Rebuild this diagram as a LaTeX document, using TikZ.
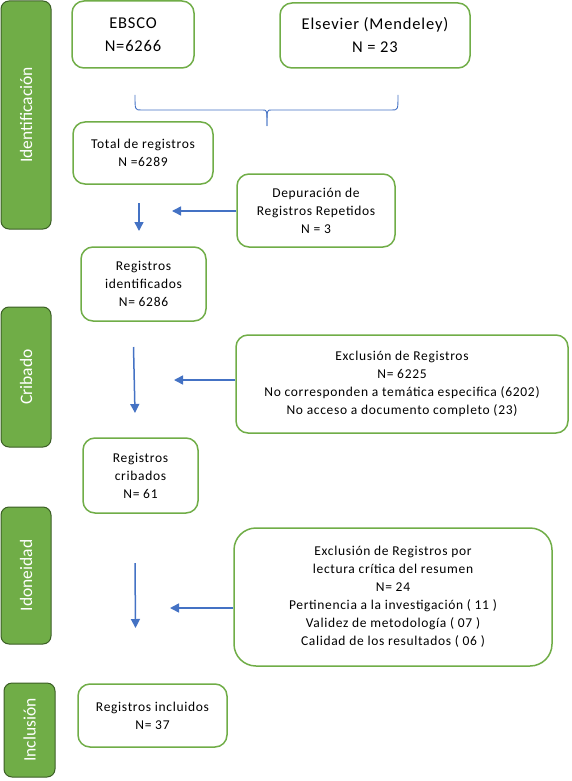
\documentclass[tikz,border=0pt]{standalone}
\usepackage{fontspec}
\setmainfont{Carlito}
\usetikzlibrary{arrows.meta}
\definecolor{gbar}{HTML}{70AD47}
\definecolor{gbard}{HTML}{3B5E25}
\definecolor{gbox}{HTML}{70AD47}
\definecolor{ablue}{HTML}{4472C4}
\newfontfamily\spacedfont[LetterSpace=5]{Carlito}
\tikzset{
  phase/.style={draw=gbard, fill=gbar, line width=1pt, rounded corners=8pt, rotate=90,
    text=white, font=\fontsize{17.5}{18}\selectfont, inner sep=0pt},
  box/.style={draw=gbox, fill=white, line width=1.5pt, rounded corners=12pt, align=center,
    font=\spacedfont\fontsize{13.5}{18}\selectfont, inner sep=0pt},
  bigbox/.style={box, font=\spacedfont\fontsize{16.5}{23}\selectfont},
  flow/.style={draw=ablue, line width=1.5pt, -{Triangle[length=9pt,width=9pt]}},
  bracel/.style={draw=ablue, line width=0.9pt}
}
\begin{document}
\begin{tikzpicture}[x=1pt,y=-1pt]
\useasboundingbox (0,0) rectangle (571,781);
% phase bars
\node[phase, minimum width=228pt, minimum height=50pt] (p1) at (26,115) {Identificación};
\node[phase, minimum width=140pt, minimum height=50pt] (p2) at (26,377) {Cribado};
\node[phase, minimum width=137pt, minimum height=50pt] (p3) at (26,575.5) {Idoneidad};
\node[phase, minimum width=94pt, minimum height=51pt] (p4) at (29.5,730) {Inclusión};
% boxes
\node[bigbox, minimum width=122pt, minimum height=67pt] (ebsco) at (133,34.5) {EBSCO\\N=6266};
\node[bigbox, minimum width=190pt, minimum height=65pt] (els) at (375,35.5) {Elsevier (Mendeley)\\N = 23};
\node[box, minimum width=140pt, minimum height=62pt] (total) at (143,153) {Total de registros\\N =6289};
\node[box, minimum width=158pt, minimum height=73pt] (dep) at (316,210.5) {Depuración de\\Registros Repetidos\\N = 3};
\node[box, minimum width=125pt, minimum height=74pt] (ident) at (143.5,284) {Registros\\identificados\\N= 6286};
\node[box, minimum width=332pt, minimum height=98pt] (ex1) at (402,384) {Exclusión de Registros\\N= 6225\\No corresponden a temática especifica (6202)\\No acceso a documento completo (23)};
\node[box, minimum width=115pt, minimum height=75pt] (crib) at (140.5,475.5) {Registros\\cribados\\N= 61};
\node[box, rounded corners=22pt, minimum width=318pt, minimum height=138pt] (ex2) at (393,597) {Exclusión de Registros por\\lectura crítica del resumen\\N= 24\\Pertinencia a la investigación ( 11 )\\Validez de metodología ( 07 )\\Calidad de los resultados ( 06 )};
\node[box, minimum width=149pt, minimum height=63pt] (incl) at (152.5,715.5) {Registros incluidos\\N= 37};
% brace
\coordinate (bl) at (135,95);
\coordinate (br) at (398,95);
\coordinate (bt) at (267,126);
\draw[bracel] (bl) .. controls (135,110) .. (141,110) -- (263,110) .. controls (267,110) .. (bt);
\draw[bracel] (br) .. controls (398,110) .. (392,110) -- (271,110) .. controls (267,110) .. (bt);
% arrows
\coordinate (d1a) at (139,203); \coordinate (d1b) at (139,231);
\coordinate (l1b) at (172,211);
\draw[flow] (d1a) -- (d1b);
\draw[flow] (dep.west |- l1b) -- (l1b);
\coordinate (d2a) at (133.5,347); \coordinate (d2b) at (135,413);
\coordinate (l2b) at (174,380);
\draw[flow] (d2a) -- (d2b);
\draw[flow] (ex1.west |- l2b) -- (l2b);
\coordinate (d3a) at (135,563); \coordinate (d3b) at (135.5,628);
\coordinate (l3b) at (170,608);
\draw[flow] (d3a) -- (d3b);
\draw[flow] (ex2.west |- l3b) -- (l3b);
\end{tikzpicture}
\end{document}
